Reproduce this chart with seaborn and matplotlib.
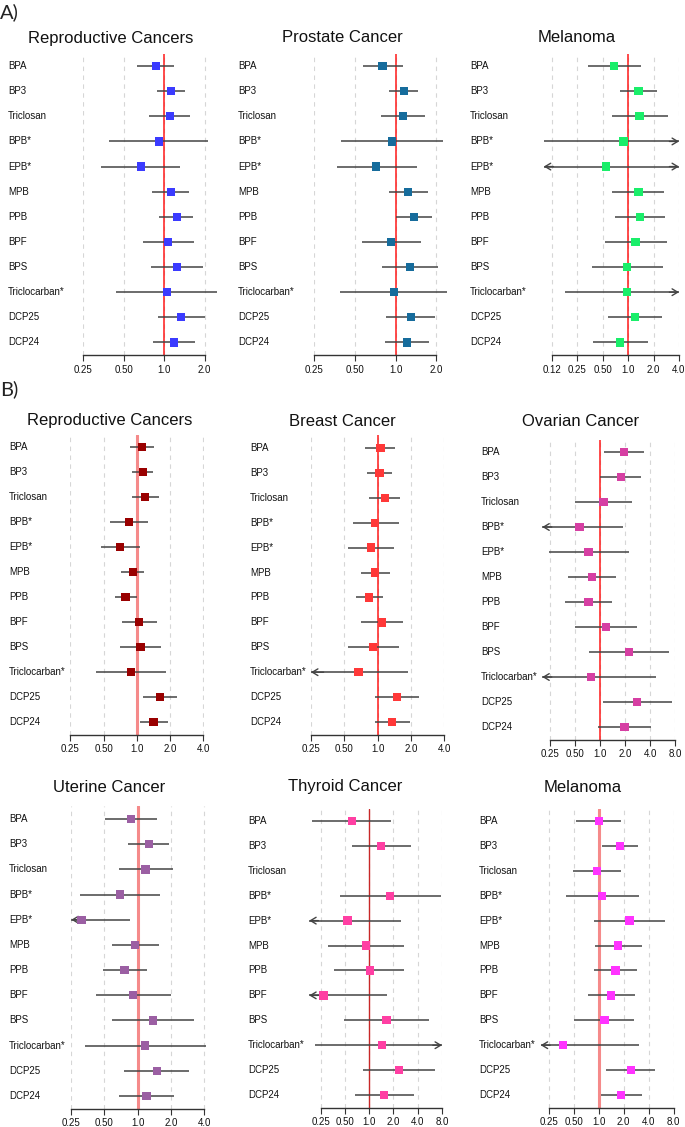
import matplotlib
matplotlib.use("Agg")
import matplotlib.pyplot as plt
import matplotlib.transforms as mtransforms
from matplotlib.ticker import NullLocator
import numpy as np
import pandas as pd
import seaborn as sns

CHEMICALS = ["BPA", "BP3", "Triclosan", "BPB*", "EPB*", "MPB", "PPB",
             "BPF", "BPS", "Triclocarban*", "DCP25", "DCP24"]

# A) Reproductive cancers
a_repro_or = [0.87, 1.12, 1.10, 0.91, 0.67, 1.12, 1.24, 1.07, 1.24, 1.05, 1.33, 1.18]
a_repro_lo = [0.63, 0.89, 0.77, 0.39, 0.34, 0.81, 0.92, 0.69, 0.80, 0.44, 0.90, 0.83]
a_repro_hi = [1.19, 1.42, 1.56, 2.11, 1.30, 1.54, 1.65, 1.67, 1.93, 2.49, 2.00, 1.70]
# A) Prostate cancer
a_prost_or = [0.80, 1.15, 1.14, 0.94, 0.72, 1.23, 1.36, 0.93, 1.28, 0.97, 1.30, 1.21]
a_prost_lo = [0.58, 0.90, 0.78, 0.40, 0.37, 0.89, 1.00, 0.57, 0.80, 0.39, 0.85, 0.83]
a_prost_hi = [1.13, 1.47, 1.64, 2.23, 1.43, 1.72, 1.85, 1.55, 2.05, 2.41, 1.95, 1.76]
# A) Melanoma
a_mela_or = [0.68, 1.33, 1.36, 0.88, 0.55, 1.33, 1.38, 1.22, 0.97, 0.96, 1.20, 0.80]
a_mela_lo = [0.33, 0.80, 0.64, 0.10, 0.08, 0.65, 0.70, 0.53, 0.37, 0.18, 0.57, 0.38]
a_mela_hi = [1.40, 2.19, 2.93, 5.00, 5.00, 2.65, 2.70, 2.85, 2.60, 5.00, 2.55, 1.73]

# B) Reproductive cancers
b_repro_or = [1.11, 1.13, 1.18, 0.85, 0.70, 0.92, 0.79, 1.05, 1.08, 0.88, 1.61, 1.41]
b_repro_lo = [0.87, 0.91, 0.91, 0.57, 0.47, 0.72, 0.63, 0.74, 0.71, 0.43, 1.13, 1.06]
b_repro_hi = [1.42, 1.39, 1.57, 1.27, 1.06, 1.17, 1.00, 1.51, 1.66, 1.83, 2.30, 1.91]
# B) Breast cancer
b_breast_or = [1.06, 1.04, 1.16, 0.95, 0.87, 0.95, 0.84, 1.09, 0.91, 0.67, 1.49, 1.35]
b_breast_lo = [0.77, 0.80, 0.84, 0.60, 0.54, 0.71, 0.64, 0.70, 0.54, 0.20, 0.95, 0.94]
b_breast_hi = [1.42, 1.35, 1.60, 1.55, 1.40, 1.30, 1.12, 1.68, 1.55, 1.87, 2.35, 1.95]
# B) Ovarian cancer
b_ovar_or = [1.93, 1.76, 1.09, 0.56, 0.72, 0.79, 0.72, 1.16, 2.21, 0.77, 2.79, 1.95]
b_ovar_lo = [1.11, 1.00, 0.49, 0.15, 0.24, 0.41, 0.38, 0.49, 0.73, 0.15, 1.08, 0.95]
b_ovar_hi = [3.36, 3.12, 2.43, 1.86, 2.23, 1.56, 1.40, 2.74, 6.77, 4.64, 7.29, 4.07]
# B) Uterine cancer
b_uter_or = [0.87, 1.26, 1.18, 0.69, 0.31, 0.95, 0.76, 0.91, 1.38, 1.17, 1.49, 1.20]
b_uter_lo = [0.51, 0.81, 0.67, 0.30, 0.20, 0.58, 0.48, 0.42, 0.59, 0.33, 0.75, 0.68]
b_uter_hi = [1.49, 1.94, 2.09, 1.58, 0.86, 1.55, 1.22, 2.00, 3.27, 4.17, 2.94, 2.15]
# B) Thyroid cancer (no estimate for Triclosan)
b_thyr_or = [0.61, 1.41, np.nan, 1.81, 0.54, 0.92, 1.02, 0.27, 1.64, 1.44, 2.36, 1.54]
b_thyr_lo = [0.196, 0.61, np.nan, 0.43, 0.12, 0.31, 0.37, 0.12, 0.49, 0.21, 0.84, 0.67]
b_thyr_hi = [1.88, 3.29, np.nan, 7.74, 2.47, 2.67, 2.74, 1.67, 5.50, 10.0, 6.59, 3.55]
# B) Melanoma
b_mela_or = [1.00, 1.81, 0.95, 1.10, 2.34, 1.71, 1.59, 1.40, 1.17, 0.37, 2.43, 1.84]
b_mela_lo = [0.53, 1.10, 0.49, 0.40, 0.87, 0.90, 0.87, 0.74, 0.51, 0.15, 1.23, 1.06]
b_mela_hi = [1.84, 2.98, 1.88, 3.03, 6.29, 3.29, 2.89, 2.71, 2.69, 3.03, 4.81, 3.33]

T_A = [0.25, 0.5, 1.0, 2.0]
T_B = [0.25, 0.5, 1.0, 2.0, 4.0]
T_C = [0.25, 0.5, 1.0, 2.0, 4.0, 8.0]
L = {0.125: "0.12", 0.25: "0.25", 0.5: "0.50", 1.0: "1.0", 2.0: "2.0", 4.0: "4.0", 8.0: "8.0"}

THIN = ("#ff1a1a", 1.1)
THICK = ("#f58a8a", 2.2)

panels = [
    dict(title="Reproductive Cancers", est=(a_repro_or, a_repro_lo, a_repro_hi), color="#3b3bff",
         xlim=(0.25, 2.6), ticks=T_A, box=(83.3, 220.0, 53.5, 355.0), lab_x=8, title_xy=(111, 38), ref=THIN),
    dict(title="Prostate Cancer", est=(a_prost_or, a_prost_lo, a_prost_hi), color="#166c9c",
         xlim=(0.25, 2.5), ticks=T_A, box=(313.7, 449.6, 53.5, 355.0), lab_x=238, title_xy=(342, 38), ref=THIN),
    dict(title="Melanoma", est=(a_mela_or, a_mela_lo, a_mela_hi), color="#1aee6a",
         xlim=(0.1, 4.0), ticks=[0.125] + T_B[:], box=(543.8, 679.0, 53.5, 355.0), lab_x=470, title_xy=(577, 38), ref=THIN),
    dict(title="Reproductive Cancers", est=(b_repro_or, b_repro_lo, b_repro_hi), color="#990000",
         xlim=(0.25, 4.0), ticks=T_B, box=(70.3, 203.5, 434.5, 734.5), lab_x=9, title_xy=(110, 420), ref=THICK),
    dict(title="Breast Cancer", est=(b_breast_or, b_breast_lo, b_breast_hi), color="#ff3838",
         xlim=(0.25, 4.0), ticks=T_B, box=(311.0, 444.3, 435.5, 734.5), lab_x=250, title_xy=(342, 421), ref=THIN),
    dict(title="Ovarian Cancer", est=(b_ovar_or, b_ovar_lo, b_ovar_hi), color="#d63fa3",
         xlim=(0.2, 8.0), ticks=T_C, box=(542.3, 675.3, 439.5, 739.5), lab_x=481, title_xy=(581, 421), ref=THIN),
    dict(title="Uterine Cancer", est=(b_uter_or, b_uter_lo, b_uter_hi), color="#9b5fa3",
         xlim=(0.25, 4.2), ticks=T_B, box=(71.3, 206.4, 806.4, 1108.6), lab_x=9, title_xy=(109, 787), ref=THICK),
    dict(title="Thyroid Cancer", est=(b_thyr_or, b_thyr_lo, b_thyr_hi), color="#ff3fa3",
         xlim=(0.18, 8.0), ticks=T_C, box=(309.2, 442.0, 808.5, 1107.5), lab_x=248, title_xy=(345, 787), ref=("#c82828", 1.0)),
    dict(title="Melanoma", est=(b_mela_or, b_mela_lo, b_mela_hi), color="#ff33ff",
         xlim=(0.2, 8.0), ticks=T_C, box=(540.7, 673.7, 808.5, 1107.5), lab_x=479, title_xy=(583, 787), ref=THICK),
]

sns.set_theme(style="white")
plt.rcParams["font.family"] = ["Liberation Sans", "DejaVu Sans"]

W, H = 685, 1127
fig = plt.figure(figsize=(W / 100, H / 100), dpi=100)
fig.patch.set_facecolor("white")

CI_COLOR = "#444444"


def draw_panel(p):
    left, right, top, bottom = p["box"]
    ax = fig.add_axes([left / W, 1 - bottom / H, (right - left) / W, (bottom - top) / H])
    ax.set_facecolor("none")
    est, lo, hi = p["est"]
    df = pd.DataFrame({"chem": CHEMICALS, "row": np.arange(len(CHEMICALS)),
                       "or": est, "lo": lo, "hi": hi})
    ax.set_xscale("log", base=2)
    xmin, xmax = p["xlim"]

    for t in p["ticks"]:
        ax.axvline(t, color="#d6d6d6", ls=(0, (4, 4)), lw=0.8, zorder=0)
    ax.axvline(1.0, color=p["ref"][0], lw=p["ref"][1], zorder=1)

    # CI whiskers, with open arrowheads where the interval runs off the scale
    for r in df.dropna().itertuples():
        a, b = max(r.lo, xmin), min(r.hi, xmax)
        ax.hlines(r.row, a, b, color=CI_COLOR, lw=1.1, zorder=2)
        if r.lo < xmin:
            ax.annotate("", xy=(xmin, r.row), xytext=(xmin * 1.3, r.row),
                        arrowprops=dict(arrowstyle="->,head_length=0.5,head_width=0.3", color=CI_COLOR, lw=1.0,
                                        shrinkA=0, shrinkB=0, mutation_scale=8),
                        annotation_clip=False)
        if r.hi > xmax:
            ax.annotate("", xy=(xmax, r.row), xytext=(xmax / 1.3, r.row),
                        arrowprops=dict(arrowstyle="->,head_length=0.5,head_width=0.3", color=CI_COLOR, lw=1.0,
                                        shrinkA=0, shrinkB=0, mutation_scale=8),
                        annotation_clip=False)

    sns.scatterplot(data=df.dropna(), x="or", y="row", marker="s", color=p["color"],
                    s=36, edgecolor="none", linewidth=0, ax=ax, zorder=3, legend=False)

    ax.set_xlim(xmin, xmax)
    ax.set_ylim(len(CHEMICALS) - 0.5, -0.5)
    ax.set_xticks(p["ticks"])
    ax.set_xticklabels([L[t] for t in p["ticks"]])
    ax.xaxis.set_minor_locator(NullLocator())
    ax.set_yticks([])
    ax.set_xlabel("")
    ax.set_ylabel("")
    for s in ("left", "top", "right"):
        ax.spines[s].set_visible(False)
    ax.spines["bottom"].set_bounds(p["ticks"][0], p["ticks"][-1])
    ax.spines["bottom"].set_color("#333333")
    ax.spines["bottom"].set_linewidth(1.0)
    ax.tick_params(axis="x", bottom=True, length=4, width=0.8, color="#333333",
                   labelsize=7, pad=3, labelcolor="#111111")

    trans = mtransforms.blended_transform_factory(fig.transFigure, ax.transData)
    for i, name in enumerate(CHEMICALS):
        ax.text(p["lab_x"] / W, i, name, transform=trans, ha="left", va="center",
                fontsize=7, color="#111111")

    tx, ty = p["title_xy"]
    fig.text(tx / W, 1 - ty / H, p["title"], ha="center", va="center", fontsize=12, color="#111111")


for p in panels:
    draw_panel(p)

fig.text(0, 1 - 12 / H, "A)", ha="left", va="center", fontsize=14.5,
         family=["Lato", "DejaVu Sans"], color="#222222")
fig.text(0, 1 - 389 / H, "B)", ha="left", va="center", fontsize=14.5,
         family=["Lato", "DejaVu Sans"], color="#222222")

fig.savefig("out.png", dpi=100, facecolor="white")
